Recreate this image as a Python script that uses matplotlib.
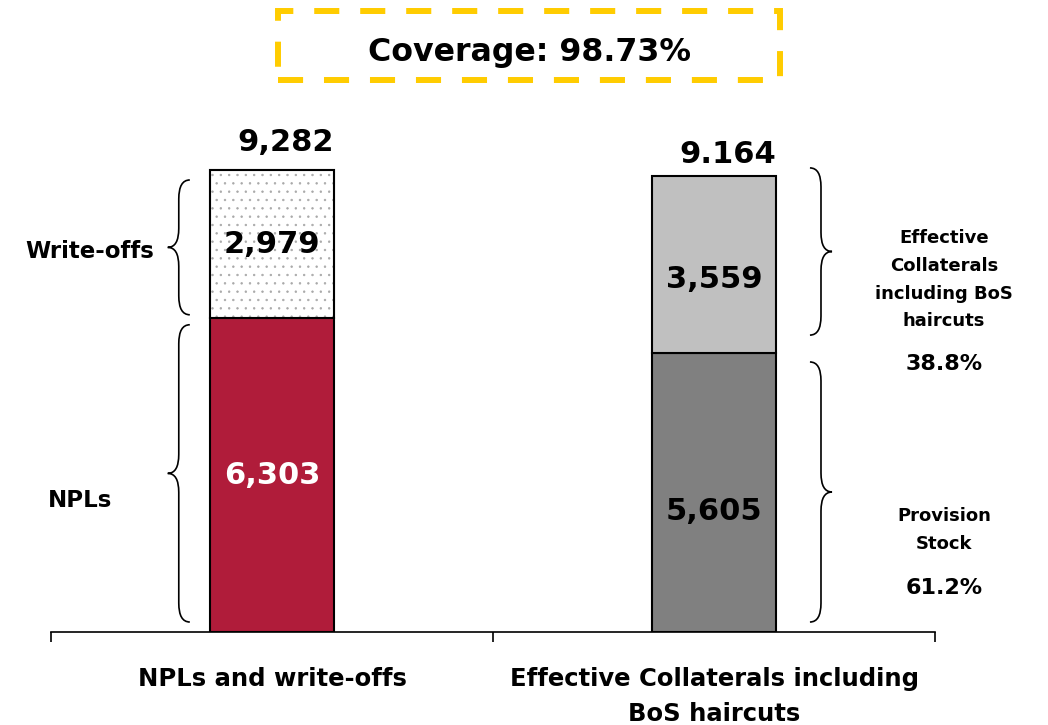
import matplotlib
matplotlib.use("Agg")
import matplotlib.pyplot as plt
from matplotlib.path import Path
from matplotlib.patches import PathPatch, Rectangle

# ---- data ----
categories = ["NPLs and write-offs", "Effective Collaterals including\nBoS haircuts"]
npls = 6303
write_offs = 2979
provisions = 5605
collaterals = 3559
total_labels = ["9,282", "9.164"]
segment_labels_low = ["6,303", "5,605"]
segment_labels_high = ["2,979", "3,559"]
provision_share = "61.2%"
collateral_share = "38.8%"
coverage = "98.73%"

bottom_vals = [npls, provisions]
top_vals = [write_offs, collaterals]
totals = [b + t for b, t in zip(bottom_vals, top_vals)]

plt.rcParams["font.family"] = ["DejaVu Sans"]
plt.rcParams["font.weight"] = "bold"
plt.rcParams["hatch.linewidth"] = 0.5

RED = "#B01C3A"
LIGHT = "#C0C0C0"
DARK = "#808080"
YELLOW = "#FFCC00"

fig = plt.figure(figsize=(10.48, 7.25), dpi=100)
ax = fig.add_axes([0.0487, 0.1283, 0.8435, 0.6865])

x = [0, 1]
w = 0.28

# lower segments
ax.bar(x[0], bottom_vals[0], width=w, color=RED, edgecolor="black", linewidth=1.5, zorder=2)
ax.bar(x[1], bottom_vals[1], width=w, color=DARK, edgecolor="black", linewidth=1.5, zorder=2)
# upper segments: dotted write-offs, plain grey collaterals
ax.bar(x[0], top_vals[0], bottom=bottom_vals[0], width=w, color="white",
       edgecolor="#a8a8a8", hatch="..", linewidth=1.5, zorder=2)
ax.bar(x[0], top_vals[0], bottom=bottom_vals[0], width=w, fill=False,
       edgecolor="black", linewidth=1.5, zorder=3)
ax.bar(x[1], top_vals[1], bottom=bottom_vals[1], width=w, color=LIGHT,
       edgecolor="black", linewidth=1.5, zorder=2)

ax.set_xlim(-0.5, 1.5)
ax.set_ylim(0, 10000)

# axis: only the baseline, ticks at category boundaries
for s in ["left", "right", "top"]:
    ax.spines[s].set_visible(False)
ax.spines["bottom"].set_linewidth(1.2)
ax.set_yticks([])
ax.set_xticks([-0.5, 0.5, 1.5])
ax.set_xticklabels([])
ax.tick_params(axis="x", which="major", direction="out", length=7, width=1.2)
ax.set_xticks(x, minor=True)
ax.set_xticklabels(categories, minor=True, fontsize=17.5, fontweight="bold",
                   linespacing=1.6)
ax.tick_params(axis="x", which="minor", length=0, pad=25)

# values inside the bars
ax.text(x[0], bottom_vals[0] / 2, segment_labels_low[0], ha="center", va="center",
        fontsize=22, fontweight="bold", color="white")
ax.text(x[0], bottom_vals[0] + top_vals[0] / 2, segment_labels_high[0], ha="center",
        va="center", fontsize=22, fontweight="bold", color="black")
ax.text(x[1], bottom_vals[1] / 2 - 380, segment_labels_low[1], ha="center", va="center",
        fontsize=22, fontweight="bold", color="black")
ax.text(x[1], bottom_vals[1] + top_vals[1] / 2 - 300, segment_labels_high[1], ha="center",
        va="center", fontsize=22, fontweight="bold", color="black")

# totals on top, flush with the right edge of each bar
ax.text(x[0] + w / 2, totals[0] + 380, total_labels[0], ha="right", va="baseline",
        fontsize=22, fontweight="bold")
ax.text(x[1] + w / 2, totals[1] + 260, total_labels[1], ha="right", va="baseline",
        fontsize=22, fontweight="bold")


def brace(ax, x_flat, x_tip, y0, y1, ym, r=380):
    xm = (x_flat + x_tip) / 2
    verts = [(x_flat, y1), (xm, y1), (xm, y1 - r), (xm, ym + r),
             (xm, ym), (x_tip, ym), (xm, ym), (xm, ym - r),
             (xm, y0 + r), (xm, y0), (x_flat, y0)]
    codes = [Path.MOVETO, Path.CURVE3, Path.CURVE3, Path.LINETO,
             Path.CURVE3, Path.CURVE3, Path.CURVE3, Path.CURVE3,
             Path.LINETO, Path.CURVE3, Path.CURVE3]
    ax.add_patch(PathPatch(Path(verts, codes), fill=False, lw=1.2,
                           edgecolor="black", clip_on=False))


# left braces
lf, lt = -0.186, -0.236
lo, hi = bottom_vals[0] + 70, totals[0] - 200
brace(ax, lf, lt, lo, hi, (lo + hi) / 2)
lo, hi = 200, bottom_vals[0] - 130
brace(ax, lf, lt, lo, hi, (lo + hi) / 2)
ax.text(lt - 0.03, bottom_vals[0] + top_vals[0] / 2 - 150, "Write-offs", ha="right",
        va="center", fontsize=16.5, fontweight="bold")
ax.text(-0.434, bottom_vals[0] / 2 - 500, "NPLs", ha="center", va="center",
        fontsize=16.5, fontweight="bold")

# right braces
rf, rt = 1.217, 1.267
lo, hi = bottom_vals[1] + 360, totals[1] + 160
brace(ax, rf, rt, lo, hi, (lo + hi) / 2)
lo, hi = 200, bottom_vals[1] - 180
brace(ax, rf, rt, lo, hi, (lo + hi) / 2)

xr = 1.52
ax.text(xr, 7080, "Effective\nCollaterals\nincluding BoS\nhaircuts", ha="center",
        va="center", fontsize=13, fontweight="bold", linespacing=1.7, clip_on=False)
ax.text(xr, 5385, collateral_share, ha="center", va="center", fontsize=16,
        fontweight="bold", clip_on=False)
ax.text(xr, 2050, "Provision\nStock", ha="center", va="center", fontsize=13,
        fontweight="bold", linespacing=1.7, clip_on=False)
ax.text(xr, 884, provision_share, ha="center", va="center", fontsize=16,
        fontweight="bold", clip_on=False)

# coverage box
fig.patches.append(Rectangle((0.2653, 0.8897), 0.479, 0.0951, transform=fig.transFigure,
                             fill=False, edgecolor=YELLOW, linewidth=4.3,
                             linestyle=(0, (4.2, 3.5))))
fig.text(0.5057, 0.916, "Coverage: " + coverage, ha="center", va="baseline",
         fontsize=22.8, fontweight="bold")

fig.savefig("out.png", dpi=100)
